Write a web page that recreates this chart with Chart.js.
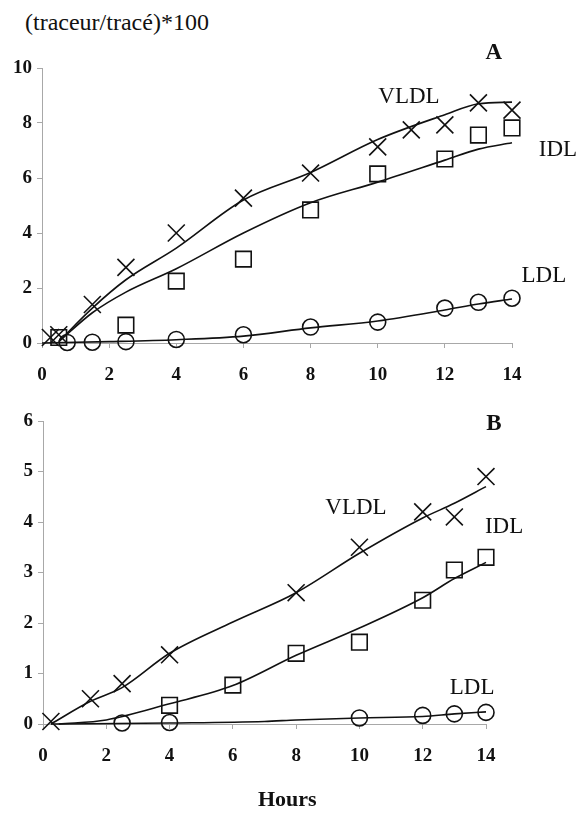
<!DOCTYPE html>
<html>
<head>
<meta charset="utf-8">
<script src="https://cdn.jsdelivr.net/npm/chart.js@4/dist/chart.umd.min.js"></script>
<style>
  html, body { margin: 0; padding: 0; background: #ffffff; }
  body { width: 581px; height: 833px; position: relative; overflow: hidden; }
  canvas { position: absolute; left: 0; }
  .txt { position: absolute; font-family: "Liberation Serif", "DejaVu Serif", serif; color: #111; white-space: nowrap; }
</style>
</head>
<body>
<div class="txt" id="ytitle" style="left:25px; top:9px; font-size:24px;">(traceur/tracé)*100</div>
<canvas id="chartA" width="581" height="400" style="top:0px;"></canvas>
<canvas id="chartB" width="581" height="433" style="top:400px;"></canvas>
<div class="txt" id="xtitle" style="left:258px; top:786px; font-size:22px; font-weight:bold;">Hours</div>
<script>
// ---------- Panel A data ----------
const xTicksA = [0, 2, 4, 6, 8, 10, 12, 14];
const yTicksA = [0, 2, 4, 6, 8, 10];

const hoursA_VLDL = [0.25, 0.5, 1.5, 2.5, 4, 6, 8, 10, 11, 12, 13, 14];
const vldlA       = [0.2, 0.3, 1.4, 2.75, 4.0, 5.27, 6.18, 7.13, 7.75, 7.93, 8.73, 8.47];
const hoursA_IDL  = [0.5, 2.5, 4, 6, 8, 10, 12, 13, 14];
const idlA        = [0.2, 0.65, 2.25, 3.05, 4.84, 6.15, 6.69, 7.56, 7.82];
const hoursA_LDL  = [0.75, 1.5, 2.5, 4, 6, 8, 10, 12, 13, 14];
const ldlA        = [0.02, 0.03, 0.05, 0.13, 0.3, 0.58, 0.76, 1.27, 1.48, 1.63];

const fitHoursA_VLDL = [0.5, 1.5, 2.5, 4, 6, 8, 10, 12, 13, 14];
const fitVldlA       = [0.05, 1.27, 2.3, 3.45, 5.2, 6.2, 7.4, 8.3, 8.7, 8.76];
const fitHoursA_IDL  = [0.5, 1.5, 2.5, 4, 6, 8, 10, 12, 13, 14];
const fitIdlA        = [0.05, 1.1, 1.85, 2.7, 4.0, 5.1, 5.85, 6.65, 7.05, 7.28];
const fitHoursA_LDL  = [0, 2, 4, 6, 8, 10, 12, 13, 14];
const fitLdlA        = [0, 0.05, 0.12, 0.25, 0.55, 0.8, 1.2, 1.42, 1.6];

// ---------- Panel B data ----------
const xTicksB = [0, 2, 4, 6, 8, 10, 12, 14];
const yTicksB = [0, 1, 2, 3, 4, 5, 6];

const hoursB_VLDL = [0.25, 1.5, 2.5, 4, 8, 10, 12, 13, 14];
const vldlB       = [0.05, 0.5, 0.8, 1.37, 2.6, 3.5, 4.2, 4.1, 4.9];
const hoursB_IDL  = [4, 6, 8, 10, 12, 13, 14];
const idlB        = [0.37, 0.77, 1.4, 1.62, 2.45, 3.05, 3.3];
const hoursB_LDL  = [2.5, 4, 10, 12, 13, 14];
const ldlB        = [0.02, 0.03, 0.12, 0.17, 0.2, 0.23];

const fitHoursB_VLDL = [0.25, 1.5, 2.5, 4, 6, 8, 10, 12, 13, 14];
const fitVldlB       = [0, 0.45, 0.72, 1.4, 2.02, 2.6, 3.38, 4.08, 4.37, 4.7];
const fitHoursB_IDL  = [0.5, 2, 4, 6, 8, 10, 12, 13, 14];
const fitIdlB        = [0, 0.08, 0.4, 0.76, 1.36, 1.9, 2.5, 2.88, 3.2];
const fitHoursB_LDL  = [0.25, 4, 7, 8, 10, 12, 13, 14];
const fitLdlB        = [0, 0.02, 0.05, 0.08, 0.12, 0.15, 0.2, 0.24];

const seriesNames = ['VLDL', 'IDL', 'LDL'];

// ---------- helpers ----------
function pts(xs, ys) { return xs.map((x, i) => ({ x: x, y: ys[i] })); }

const SERIF = '"Liberation Serif", "DejaVu Serif", serif';

function markerSet(label, xs, ys, style, radius) {
  return {
    label: label, data: pts(xs, ys), showLine: false, clip: false,
    pointStyle: style, pointRadius: radius, pointHoverRadius: radius,
    pointBorderColor: '#111', pointBackgroundColor: 'rgba(0,0,0,0)',
    pointBorderWidth: 1.6, borderColor: '#111', backgroundColor: 'rgba(0,0,0,0)'
  };
}
function fitSet(label, xs, ys) {
  return {
    label: label, data: pts(xs, ys), showLine: true, pointRadius: 0, clip: false,
    borderColor: '#111', borderWidth: 1.6, cubicInterpolationMode: 'monotone', fill: false
  };
}

const textLabels = {
  id: 'textLabels',
  afterDatasetsDraw(chart, args, opts) {
    const ctx = chart.ctx;
    const xs = chart.scales.x, ys = chart.scales.y;
    ctx.save();
    ctx.fillStyle = '#111';
    ctx.textAlign = 'center';
    ctx.textBaseline = 'middle';
    (opts.items || []).forEach(it => {
      ctx.font = (it.bold ? 'bold ' : '') + it.size + 'px ' + SERIF;
      ctx.fillText(it.text, xs.getPixelForValue(it.x), ys.getPixelForValue(it.y));
    });
    ctx.restore();
  }
};

function makeOptions(yMax, yStep, pad, yWidth, xHeight, items) {
  return {
    responsive: false,
    animation: false,
    events: [],
    layout: { padding: pad },
    plugins: { legend: { display: false }, tooltip: { enabled: false }, textLabels: { items: items } },
    scales: {
      x: {
        type: 'linear', min: 0, max: 14,
        afterFit(s) { s.height = xHeight; },
        border: { display: true, color: '#a8a8a8', width: 1 },
        grid: { display: true, drawOnChartArea: false, drawTicks: true, tickLength: 5, color: '#a8a8a8' },
        ticks: { stepSize: 2, padding: 16, color: '#111', font: { family: SERIF, size: 19, weight: 'bold' } }
      },
      y: {
        type: 'linear', min: 0, max: yMax,
        afterFit(s) { s.width = yWidth; },
        border: { display: true, color: '#a8a8a8', width: 1 },
        grid: { display: true, drawOnChartArea: false, drawTicks: true, tickLength: 5, color: '#a8a8a8' },
        ticks: { stepSize: yStep, padding: 5, color: '#111', font: { family: SERIF, size: 19, weight: 'bold' } }
      }
    }
  };
}

new Chart(document.getElementById('chartA'), {
  type: 'scatter',
  data: {
    datasets: [
      fitSet(seriesNames[0] + ' fit', fitHoursA_VLDL, fitVldlA),
      fitSet(seriesNames[1] + ' fit', fitHoursA_IDL, fitIdlA),
      fitSet(seriesNames[2] + ' fit', fitHoursA_LDL, fitLdlA),
      markerSet(seriesNames[0], hoursA_VLDL, vldlA, 'crossRot', 12),
      markerSet(seriesNames[1], hoursA_IDL, idlA, 'rect', 11),
      markerSet(seriesNames[2], hoursA_LDL, ldlA, 'circle', 8)
    ]
  },
  options: makeOptions(10, 2, { top: 68, right: 69, bottom: 0, left: 0 }, 42, 57, [
    { text: 'A', x: 13.46, y: 10.55, size: 23, bold: true },
    { text: 'VLDL', x: 10.93, y: 8.95, size: 23 },
    { text: 'IDL', x: 15.37, y: 7.02, size: 23 },
    { text: 'LDL', x: 14.95, y: 2.44, size: 23 }
  ]),
  plugins: [textLabels]
});

new Chart(document.getElementById('chartB'), {
  type: 'scatter',
  data: {
    datasets: [
      fitSet(seriesNames[0] + ' fit', fitHoursB_VLDL, fitVldlB),
      fitSet(seriesNames[1] + ' fit', fitHoursB_IDL, fitIdlB),
      fitSet(seriesNames[2] + ' fit', fitHoursB_LDL, fitLdlB),
      markerSet(seriesNames[0], hoursB_VLDL, vldlB, 'crossRot', 12),
      markerSet(seriesNames[1], hoursB_IDL, idlB, 'rect', 11),
      markerSet(seriesNames[2], hoursB_LDL, ldlB, 'circle', 8)
    ]
  },
  options: makeOptions(6, 1, { top: 21, right: 95, bottom: 0, left: 0 }, 43, 109, [
    { text: 'B', x: 14.25, y: 5.94, size: 23, bold: true },
    { text: 'VLDL', x: 9.89, y: 4.28, size: 23 },
    { text: 'IDL', x: 14.57, y: 3.9, size: 23 },
    { text: 'LDL', x: 13.56, y: 0.71, size: 23 }
  ]),
  plugins: [textLabels]
});
</script>
</body>
</html>
